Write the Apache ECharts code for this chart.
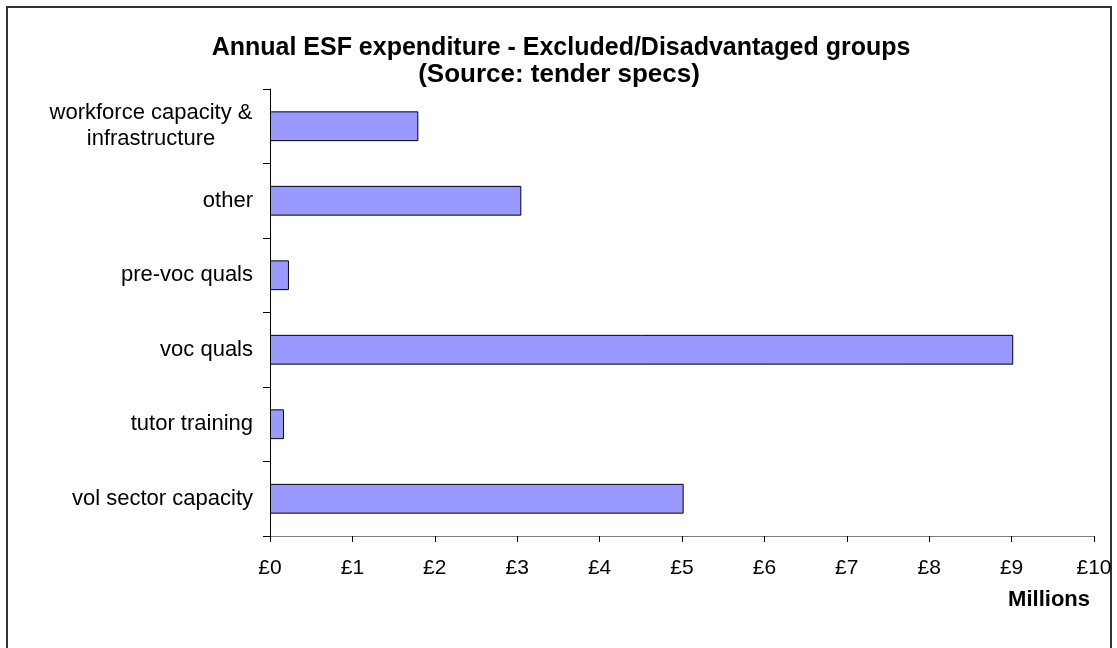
<!DOCTYPE html>
<html>
<head>
<meta charset="utf-8">
<script src="https://cdn.jsdelivr.net/npm/echarts@6/dist/echarts.min.js"></script>
<style>
html,body{margin:0;padding:0;background:#fff;}
#chart{width:1117px;height:648px;}
</style>
</head>
<body>
<div id="chart"></div>
<script>
// Categories listed bottom to top (ECharts category y-axis starts at bottom)
const categories = [
  'vol sector capacity',
  'tutor training',
  'voc quals',
  'pre-voc quals',
  'other',
  'workforce capacity &\ninfrastructure'
];
const expenditureMillions = [5.02, 0.17, 9.02, 0.23, 3.05, 1.80];
const xTicks = [0, 1, 2, 3, 4, 5, 6, 7, 8, 9, 10];
const titleLine1 = 'Annual ESF expenditure - Excluded/Disadvantaged groups';
const titleLine2 = '(Source: tender specs)';
const xAxisName = 'Millions';

const chart = echarts.init(document.getElementById('chart'), null, {renderer: 'canvas'});
const font = 'Liberation Sans, Arial, sans-serif';

chart.setOption({
  animation: false,
  backgroundColor: '#ffffff',
  title: [
    {
      text: titleLine1,
      left: 556, top: 31,
      textAlign: 'center',
      textStyle: {fontFamily: font, fontWeight: 'bold', fontSize: 25, color: '#000'}
    },
    {
      text: titleLine2,
      left: 554, top: 57,
      textAlign: 'center',
      textStyle: {fontFamily: font, fontWeight: 'bold', fontSize: 26, color: '#000'}
    }
  ],
  grid: {left: 270, right: 23, top: 89, bottom: 112, containLabel: false},
  xAxis: {
    type: 'value',
    min: xTicks[0],
    max: xTicks[xTicks.length - 1],
    interval: 1,
    splitLine: {show: false},
    axisLine: {show: true, lineStyle: {color: '#808080', width: 1}},
    axisTick: {show: true, length: 6, lineStyle: {color: '#000'}},
    axisLabel: {
      formatter: v => '£' + v,
      fontFamily: font, fontSize: 21, color: '#000', margin: 22
    }
  },
  yAxis: {
    type: 'category',
    data: categories,
    axisLine: {show: true, lineStyle: {color: '#000', width: 1}},
    axisTick: {show: true, length: 7, lineStyle: {color: '#000'}},
    axisLabel: {
      fontFamily: font, fontSize: 22, color: '#000', margin: 17, align: 'right', lineHeight: 26,
      formatter: v => v.indexOf('\n') >= 0 ? '{c|' + v + '}' : v,
      rich: {c: {fontFamily: font, fontSize: 22, color: '#000', lineHeight: 26, width: 204, align: 'center'}}
    }
  },
  series: [{
    type: 'bar',
    data: expenditureMillions,
    barWidth: '40%',
    itemStyle: {color: '#9999FF', borderColor: '#000', borderWidth: 1}
  }],
  graphic: [
    {
      type: 'rect',
      shape: {x: 7, y: 7, width: 1104, height: 680},
      style: {fill: 'none', stroke: '#333', lineWidth: 2},
      silent: true
    },
    {
      type: 'text',
      x: 1090, y: 589,
      style: {text: xAxisName, textAlign: 'right', fontFamily: font, fontWeight: 'bold', fontSize: 22, fill: '#000'}
    }
  ]
});
</script>
</body>
</html>
